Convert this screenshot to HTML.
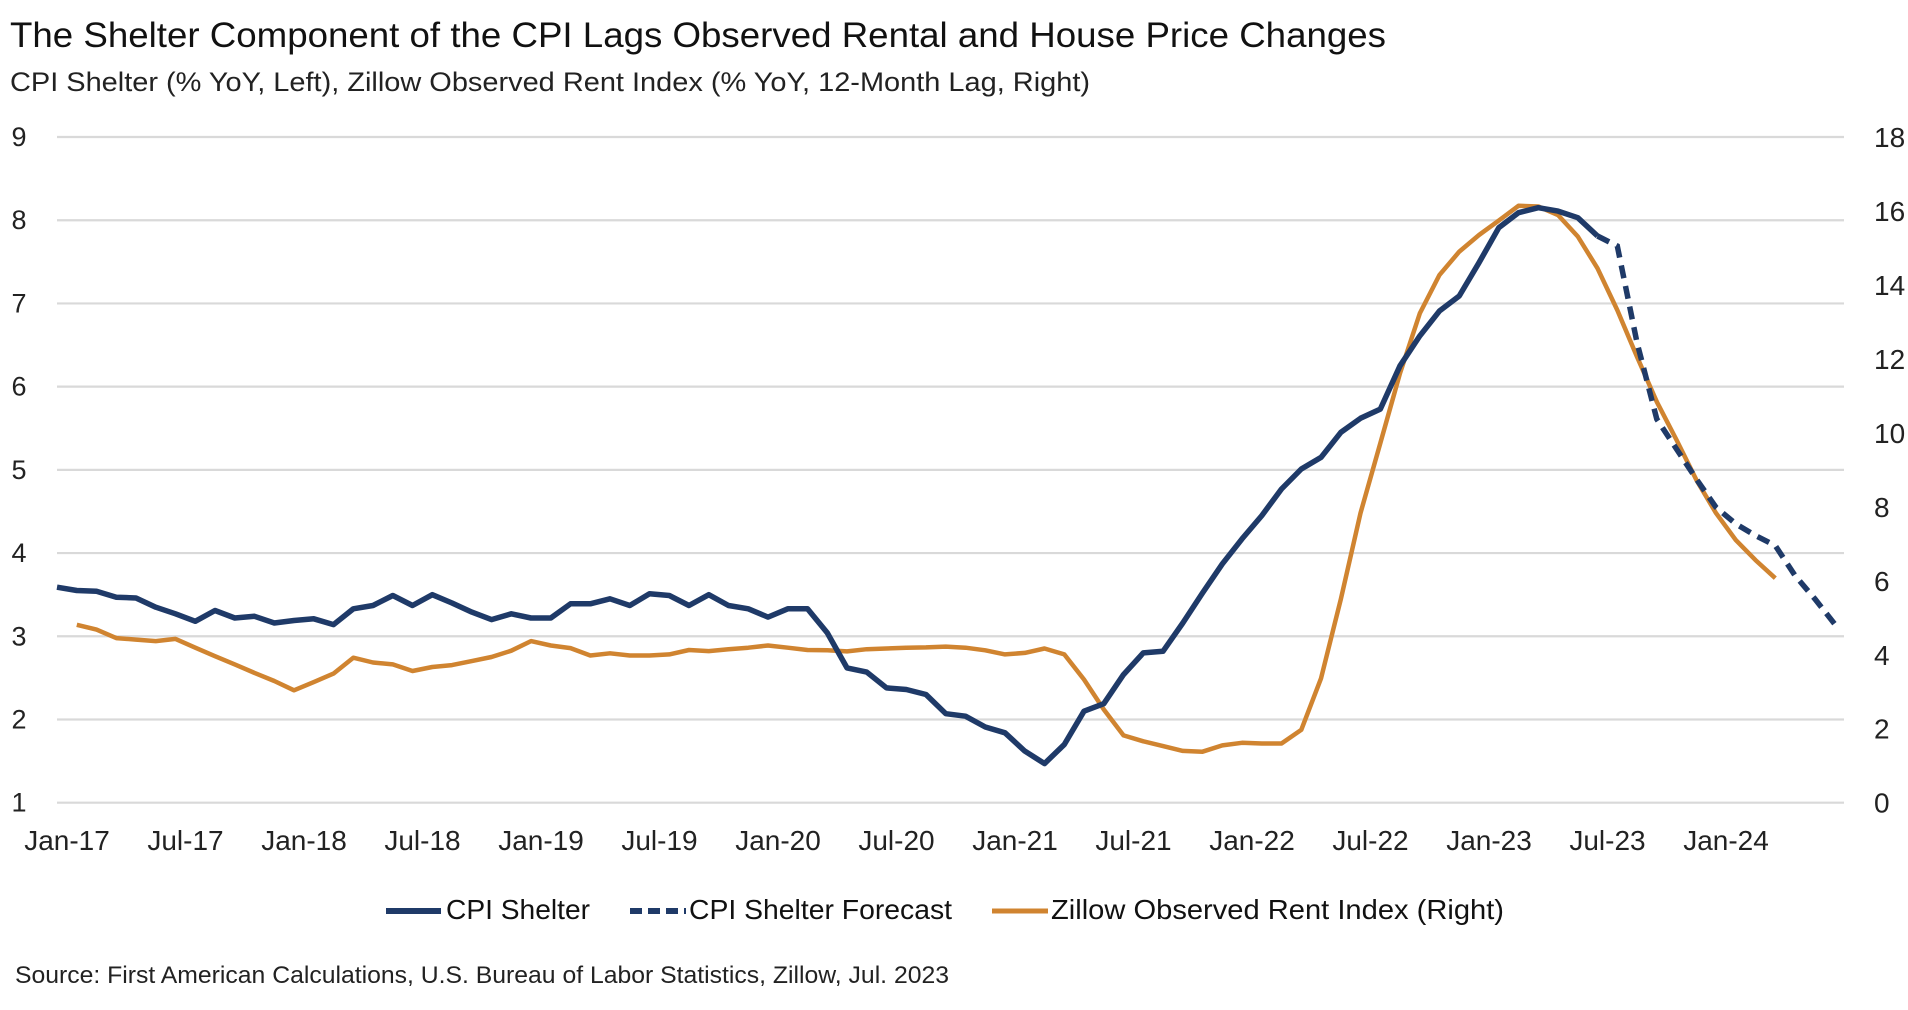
<!DOCTYPE html>
<html><head><meta charset="utf-8"><style>
html,body{margin:0;padding:0;background:#fff;}
svg{display:block;font-family:"Liberation Sans Narrow","Liberation Sans",sans-serif;}
</style></head><body>
<svg id="chart" width="1908" height="1010" viewBox="0 0 1908 1010" xmlns="http://www.w3.org/2000/svg">
<text x="10" y="47" font-size="35" fill="#111" textLength="1376" lengthAdjust="spacingAndGlyphs">The Shelter Component of the CPI Lags Observed Rental and House Price Changes</text>
<text x="10" y="91" font-size="27" fill="#222" textLength="1080" lengthAdjust="spacingAndGlyphs">CPI Shelter (% YoY, Left), Zillow Observed Rent Index (% YoY, 12-Month Lag, Right)</text>
<g id="grid"></g>
<g id="yleft"></g>
<g id="yright"></g>
<g id="xaxis"></g>
<g id="series"></g>
<g>
  <g>
    <line x1="386" y1="911" x2="441" y2="911" stroke="#1f3a68" stroke-width="6"/>
    <text x="446" y="919" font-size="28" fill="#111" textLength="144" lengthAdjust="spacingAndGlyphs">CPI Shelter</text>
  </g>
  <g>
    <line x1="630" y1="911" x2="686" y2="911" stroke="#1f3a68" stroke-width="6" stroke-dasharray="12,6"/>
    <text x="689" y="919" font-size="28" fill="#111" textLength="263" lengthAdjust="spacingAndGlyphs">CPI Shelter Forecast</text>
  </g>
  <g>
    <line x1="992" y1="911" x2="1048" y2="911" stroke="#d08430" stroke-width="5"/>
    <text x="1051" y="919" font-size="28" fill="#111" textLength="453" lengthAdjust="spacingAndGlyphs">Zillow Observed Rent Index (Right)</text>
  </g>
</g>
<text x="15" y="983" font-size="24" fill="#222" textLength="934" lengthAdjust="spacingAndGlyphs">Source: First American Calculations, U.S. Bureau of Labor Statistics, Zillow, Jul. 2023</text>
</svg>
<script>
const leftTicks = [1,2,3,4,5,6,7,8,9];
const rightTicks = [0,2,4,6,8,10,12,14,16,18];
const xLabels = ["Jan-17","Jul-17","Jan-18","Jul-18","Jan-19","Jul-19","Jan-20","Jul-20","Jan-21","Jul-21","Jan-22","Jul-22","Jan-23","Jul-23","Jan-24"];
const xLabelMonths = [0,6,12,18,24,30,36,42,48,54,60,66,72,78,84];
const cpiStart = 0;
const cpiShelter = [3.59,3.55,3.54,3.47,3.46,3.35,3.27,3.18,3.31,3.22,
3.24,3.16,3.19,3.21,3.14,3.33,3.37,3.49,3.37,3.50,
3.40,3.29,3.20,3.27,3.22,3.22,3.39,3.39,3.45,3.37,
3.51,3.49,3.37,3.50,3.37,3.33,3.23,3.33,3.33,3.04,
2.62,2.57,2.38,2.36,2.30,2.07,2.04,1.91,1.84,1.62,
1.47,1.70,2.10,2.19,2.54,2.80,2.82,3.16,3.52,3.87,
4.17,4.45,4.77,5.01,5.15,5.45,5.62,5.73,6.25,6.61,
6.91,7.09,7.49,7.91,8.09,8.15,8.11,8.03,7.81];
const forecastStart = 78;
const cpiForecast = [7.81,7.69,6.53,5.61,5.25,4.89,4.55,4.35,4.21,4.09,3.73,3.45,3.15];
const zillowStart = 1;
const zillowRent = [4.81,4.68,4.45,4.41,4.37,4.43,4.19,3.96,3.74,3.51,
3.29,3.04,3.26,3.49,3.92,3.79,3.74,3.56,3.67,3.72,
3.83,3.94,4.11,4.37,4.25,4.18,3.98,4.04,3.98,3.98,
4.01,4.13,4.10,4.15,4.19,4.25,4.19,4.13,4.12,4.09,
4.15,4.17,4.19,4.20,4.22,4.19,4.12,4.01,4.05,4.17,
4.01,3.33,2.52,1.82,1.66,1.53,1.40,1.38,1.55,1.62,
1.60,1.60,1.97,3.36,5.50,7.83,9.72,11.61,13.23,14.27,
14.90,15.35,15.74,16.14,16.12,15.89,15.31,14.45,13.32,12.06,
10.84,9.81,8.73,7.83,7.10,6.56,6.07];

const NS = "http://www.w3.org/2000/svg";
const X0 = 57, STEP = 19.75, GX1 = 1844;
const YTOP = 137, YBOT = 802.7;
function x(m){ return X0 + m*STEP; }
function yL(v){ return YBOT - (v-1)/(9-1)*(YBOT-YTOP); }
function yR(v){ return YBOT - v/18*(YBOT-YTOP); }
function mk(tag, parent){ const e=document.createElementNS(NS,tag); document.getElementById(parent).appendChild(e); return e; }

leftTicks.forEach(t=>{
  const l = mk("line","grid");
  
  
  l.setAttribute("x1",X0); l.setAttribute("x2",GX1);
  l.setAttribute("y1",yL(t)); l.setAttribute("y2",yL(t));
  l.setAttribute("stroke","#d9d9d9"); l.setAttribute("stroke-width","2.2");
  const tx = mk("text","yleft");
  
  
  tx.setAttribute("x",19); tx.setAttribute("y",yL(t)+9);
  tx.setAttribute("text-anchor","middle"); tx.setAttribute("font-size","27"); tx.setAttribute("fill","#222");
  tx.textContent = t;
});
rightTicks.forEach(t=>{
  const tx = mk("text","yright");
  
  
  tx.setAttribute("x",1874); tx.setAttribute("y",yR(t)+10);
  tx.setAttribute("font-size","28"); tx.setAttribute("fill","#222");
  tx.textContent = t;
});
xLabels.forEach((lab,i)=>{
  const tx = mk("text","xaxis");
  
  
  tx.setAttribute("x",x(xLabelMonths[i])+10); tx.setAttribute("y",850);
  tx.setAttribute("text-anchor","middle"); tx.setAttribute("font-size","28"); tx.setAttribute("fill","#222");
  tx.textContent = lab;
});
function path(vals, start, yf){
  return vals.map((v,i)=>(i?"L":"M")+x(start+i).toFixed(1)+","+yf(v).toFixed(1)).join(" ");
}
const pz = mk("path","series");


pz.setAttribute("d", path(zillowRent, zillowStart, yR));
pz.setAttribute("fill","none"); pz.setAttribute("stroke","#d08430"); pz.setAttribute("stroke-width","4.5"); pz.setAttribute("stroke-linejoin","round");
const pf = mk("path","series");


pf.setAttribute("d", path(cpiForecast, forecastStart, yL));
pf.setAttribute("fill","none"); pf.setAttribute("stroke","#1f3a68"); pf.setAttribute("stroke-width","5.5"); pf.setAttribute("stroke-dasharray","13,8");
const pc = mk("path","series");


pc.setAttribute("d", path(cpiShelter, cpiStart, yL));
pc.setAttribute("fill","none"); pc.setAttribute("stroke","#1f3a68"); pc.setAttribute("stroke-width","5.5"); pc.setAttribute("stroke-linejoin","round");
</script>
</body></html>
